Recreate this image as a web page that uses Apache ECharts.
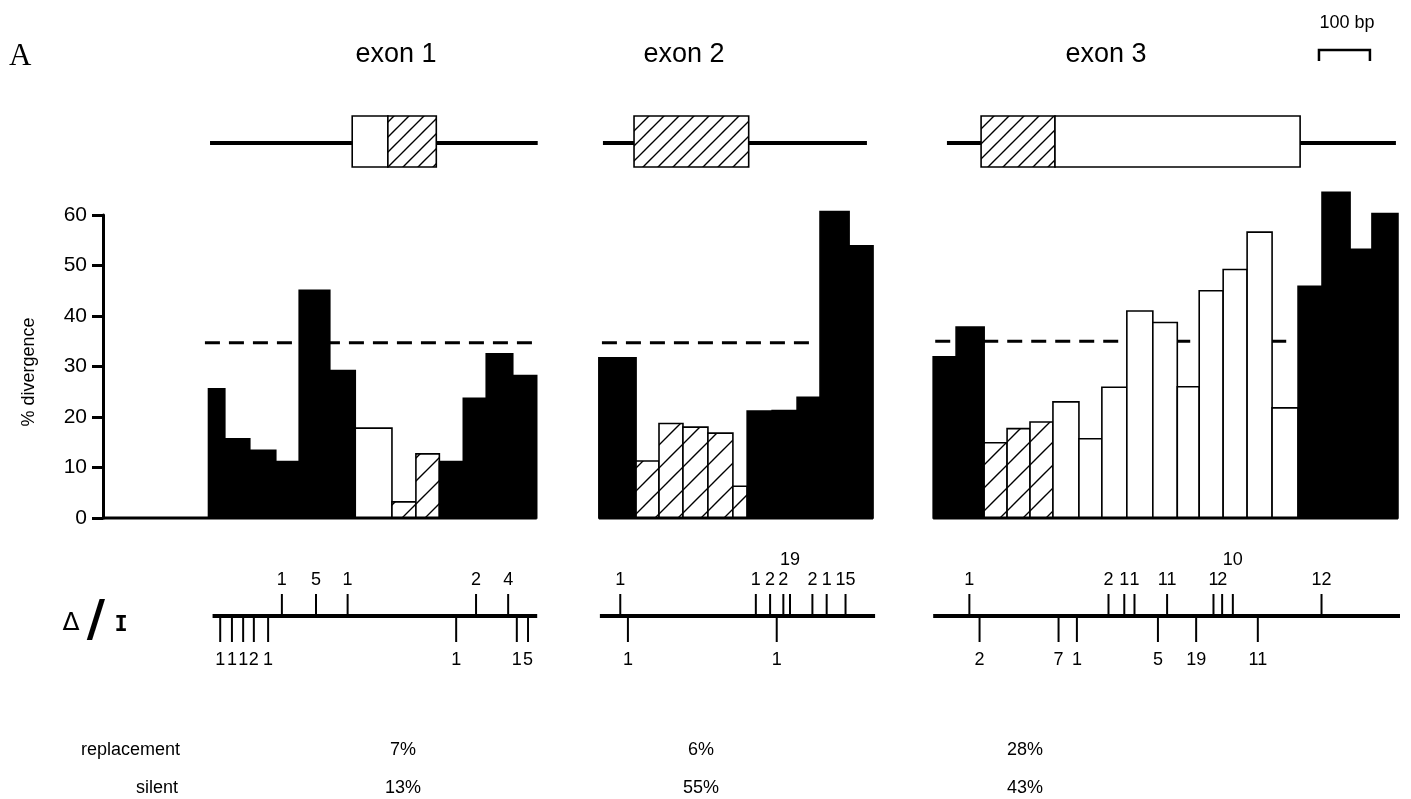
<!DOCTYPE html>
<html>
<head>
<meta charset="utf-8">
<script src="https://cdn.jsdelivr.net/npm/echarts@6/dist/echarts.min.js"></script>
<style>
html, body { margin: 0; padding: 0; background: #fff; }
#main { width: 1411px; height: 799px; }
</style>
</head>
<body>
<div id="main"></div>
<script>
// positions are in bp along the aligned region, divergence in %
// window edges + values per exon panel; kind: 'n' flanking/intron (black), 'u' untranslated (white), 'c' coding (hatched)
var exon1Edges = [207, 239, 288, 339, 385, 445, 495, 567, 614, 660, 707, 752, 804, 851];
var exon1Values = [25.6, 15.7, 13.4, 11.2, 45.1, 29.2, 17.8, 3.2, 12.7, 11.2, 23.7, 32.5, 28.2];
var exon1Kinds = ['n', 'n', 'n', 'n', 'n', 'n', 'u', 'c', 'c', 'n', 'n', 'n', 'n'];

var exon2Edges = [973, 1046, 1091, 1138, 1187, 1236, 1264, 1313, 1362, 1407, 1464, 1511];
var exon2Values = [31.7, 11.3, 18.7, 18.0, 16.8, 6.3, 21.2, 21.3, 23.9, 60.7, 53.9];
var exon2Kinds = ['n', 'c', 'c', 'c', 'c', 'c', 'n', 'n', 'n', 'n', 'n'];

var exon3Edges = [1629, 1674, 1729, 1774, 1819, 1864, 1915, 1960, 2009, 2060, 2108, 2151, 2198, 2245, 2294, 2345, 2392, 2447, 2490, 2541];
var exon3Values = [31.9, 37.8, 14.9, 17.7, 19.0, 23.0, 15.7, 25.9, 41.0, 38.7, 26.0, 45.0, 49.2, 56.6, 21.8, 45.9, 64.5, 53.2, 60.3];
var exon3Kinds = ['n', 'n', 'c', 'c', 'c', 'u', 'u', 'u', 'u', 'u', 'u', 'u', 'u', 'u', 'u', 'n', 'n', 'n', 'n'];

// baseline stretch of each panel and the dashed average level
var panelSpans = [[0, 851], [973, 1511], [1629, 2541]];
var avgSpans = [[200, 851], [979, 1401], [1633, 2331]];
var avgLevels = [34.7, 34.7, 35.0];

// gene structure: flanking lines and exon boxes
var flankLines = [[210, 853], [981, 1499], [1656, 2537]];
var exonParts = [[489, 559, 'u'], [559, 654, 'c'], [1042, 1267, 'c'], [1723, 1868, 'c'], [1868, 2349, 'u']];
var scaleBarStart = 2386;
var scaleBarLength = 100;

// deletions / insertions: sites above and below the line with sizes
var indelLines = [[215, 852], [975, 1515], [1629, 2545]];
var abovePos = [351, 418, 480, 732, 795, 1015, 1281, 1309, 1335, 1348, 1392, 1420, 1457, 1700, 1973, 2004, 2024, 2088, 2179, 2196, 2217, 2391];
var aboveSize = [1, 5, 1, 2, 4, 1, 1, 2, 2, 19, 2, 1, 15, 1, 2, 1, 1, 11, 1, 2, 10, 12];
var belowPos = [230, 253, 275, 296, 324, 693, 812, 834, 1030, 1322, 1720, 1875, 1911, 2070, 2145, 2266];
var belowSize = [1, 1, 1, 2, 1, 1, 1, 5, 1, 1, 2, 7, 1, 5, 19, 11];

var exonNames = ['exon 1', 'exon 2', 'exon 3'];
var replacement = ['7%', '6%', '28%'];
var silent = ['13%', '55%', '43%'];

// layout
var titleX = [396, 684, 1106];
var pctX = [403, 701, 1025];
var FONT = 'Liberation Sans';

function hatch(size, lw) {
    var c = document.createElement('canvas');
    c.width = size;
    c.height = size;
    var g = c.getContext('2d');
    g.fillStyle = '#fff';
    g.fillRect(0, 0, size, size);
    g.strokeStyle = '#000';
    g.lineWidth = lw;
    g.beginPath();
    g.moveTo(-2, size + 2); g.lineTo(size + 2, -2);
    g.moveTo(-2, 2); g.lineTo(2, -2);
    g.moveTo(size - 2, size + 2); g.lineTo(size + 2, size - 2);
    g.stroke();
    return { image: c, repeat: 'repeat' };
}
var barFill = { n: '#000', u: '#fff', c: hatch(23, 1.4) };
var boxFill = { u: '#fff', c: hatch(15, 1.4) };

var bars = [];
[[exon1Edges, exon1Values, exon1Kinds], [exon2Edges, exon2Values, exon2Kinds], [exon3Edges, exon3Values, exon3Kinds]].forEach(function (p) {
    p[1].forEach(function (v, i) {
        bars.push([p[0][i], p[0][i + 1], v, p[2][i]]);
    });
});

var indels = [];
abovePos.forEach(function (x, i) { indels.push([x, aboveSize[i], 1]); });
belowPos.forEach(function (x, i) { indels.push([x, belowSize[i], -1]); });

var chart = echarts.init(document.getElementById('main'));

function xAxis(i) {
    return { gridIndex: i, type: 'value', min: 0, max: 2545, show: false };
}

function label(text, x, y, align) {
    return {
        type: 'text', x: x, y: y,
        style: { text: text, font: '18px "' + FONT + '"', fill: '#000', textAlign: align || 'center', textVerticalAlign: 'middle' }
    };
}

chart.setOption({
    animation: false,
    backgroundColor: '#fff',
    grid: [
        { left: 103, right: 11, top: 116, height: 51 },
        { left: 103, right: 11, top: 215, height: 303 },
        { left: 103, right: 11, top: 596, height: 40 }
    ],
    xAxis: [xAxis(0), xAxis(1), xAxis(2)],
    yAxis: [
        { gridIndex: 0, type: 'value', min: 0, max: 1, show: false },
        {
            gridIndex: 1,
            type: 'value',
            min: 0,
            max: 60,
            interval: 10,
            axisLine: { show: true, lineStyle: { color: '#000', width: 3 } },
            axisTick: { show: true, length: 11, lineStyle: { color: '#000', width: 3 } },
            axisLabel: { color: '#000', fontSize: 21, fontFamily: FONT, margin: 16 },
            splitLine: { show: false }
        },
        { gridIndex: 2, type: 'value', min: -1, max: 1, show: false }
    ],
    series: [
        {
            // dashed average line, under the bars
            type: 'custom',
            xAxisIndex: 1,
            yAxisIndex: 1,
            z: 1,
            data: avgSpans.map(function (s, i) { return [s[0], s[1], avgLevels[i]]; }),
            encode: { x: [0, 1], y: 2 },
            renderItem: function (params, api) {
                var a = api.coord([api.value(0), api.value(2)]);
                var b = api.coord([api.value(1), api.value(2)]);
                return {
                    type: 'line',
                    shape: { x1: a[0], y1: a[1], x2: b[0], y2: b[1] },
                    style: { stroke: '#000', lineWidth: 3, lineDash: [15, 9] }
                };
            }
        },
        {
            type: 'custom',
            xAxisIndex: 1,
            yAxisIndex: 1,
            z: 2,
            data: bars.map(function (d) { return [d[0], d[1], d[2]]; }),
            encode: { x: [0, 1], y: 2 },
            renderItem: function (params, api) {
                var kind = bars[params.dataIndex][3];
                var p0 = api.coord([api.value(0), 0]);
                var p1 = api.coord([api.value(1), api.value(2)]);
                return {
                    type: 'rect',
                    shape: { x: p0[0], y: p1[1], width: p1[0] - p0[0], height: p0[1] - p1[1] },
                    style: { fill: barFill[kind], stroke: '#000', lineWidth: 1.6 }
                };
            }
        },
        {
            // zero baseline of each panel
            type: 'custom',
            xAxisIndex: 1,
            yAxisIndex: 1,
            z: 3,
            data: panelSpans,
            encode: { x: [0, 1] },
            renderItem: function (params, api) {
                var a = api.coord([api.value(0), 0]);
                var b = api.coord([api.value(1), 0]);
                return {
                    type: 'line',
                    shape: { x1: a[0], y1: a[1], x2: b[0], y2: b[1] },
                    style: { stroke: '#000', lineWidth: 3 }
                };
            }
        },
        {
            // gene structure lines
            type: 'custom',
            xAxisIndex: 0,
            yAxisIndex: 0,
            z: 1,
            data: flankLines,
            encode: { x: [0, 1] },
            renderItem: function (params, api) {
                var a = api.coord([api.value(0), 0.47]);
                var b = api.coord([api.value(1), 0.47]);
                return {
                    type: 'line',
                    shape: { x1: a[0], y1: a[1], x2: b[0], y2: b[1] },
                    style: { stroke: '#000', lineWidth: 4 }
                };
            }
        },
        {
            // exon boxes
            type: 'custom',
            xAxisIndex: 0,
            yAxisIndex: 0,
            z: 2,
            data: exonParts.map(function (e) { return [e[0], e[1]]; }),
            encode: { x: [0, 1] },
            renderItem: function (params, api) {
                var kind = exonParts[params.dataIndex][2];
                var a = api.coord([api.value(0), 1]);
                var b = api.coord([api.value(1), 0]);
                return {
                    type: 'rect',
                    shape: { x: a[0], y: a[1], width: b[0] - a[0], height: b[1] - a[1] },
                    style: { fill: boxFill[kind], stroke: '#000', lineWidth: 1.6 }
                };
            }
        },
        {
            // 100 bp scale bar
            type: 'custom',
            xAxisIndex: 0,
            yAxisIndex: 0,
            data: [[scaleBarStart, scaleBarStart + scaleBarLength]],
            encode: { x: [0, 1] },
            renderItem: function (params, api) {
                var a = api.coord([api.value(0), 1]);
                var b = api.coord([api.value(1), 1]);
                var top = a[1] - 66;
                return {
                    type: 'polyline',
                    shape: { points: [[a[0], top + 11], [a[0], top], [b[0], top], [b[0], top + 11]] },
                    style: { stroke: '#000', lineWidth: 2.5, fill: null }
                };
            }
        },
        {
            // indel lines
            type: 'custom',
            xAxisIndex: 2,
            yAxisIndex: 2,
            z: 2,
            data: indelLines,
            encode: { x: [0, 1] },
            renderItem: function (params, api) {
                var a = api.coord([api.value(0), 0]);
                var b = api.coord([api.value(1), 0]);
                return {
                    type: 'line',
                    shape: { x1: a[0], y1: a[1], x2: b[0], y2: b[1] },
                    style: { stroke: '#000', lineWidth: 4 }
                };
            }
        },
        {
            // indel ticks with sizes
            type: 'custom',
            xAxisIndex: 2,
            yAxisIndex: 2,
            z: 1,
            data: indels,
            encode: { x: 0 },
            renderItem: function (params, api) {
                var d = indels[params.dataIndex];
                var p = api.coord([d[0], 0]);
                var up = d[2] > 0;
                var text = String(d[1]);
                var raise = 0;
                if (text.length > 1) {
                    indels.forEach(function (o, j) {
                        if (j !== params.dataIndex && o[2] === d[2]) {
                            var q = api.coord([o[0], 0]);
                            if (Math.abs(q[0] - p[0]) < 12) raise = 20;
                        }
                    });
                }
                var tickEnd = up ? p[1] - 22 : p[1] + 26;
                return {
                    type: 'group',
                    children: [
                        {
                            type: 'line',
                            shape: { x1: p[0], y1: p[1], x2: p[0], y2: tickEnd },
                            style: { stroke: '#000', lineWidth: 2 }
                        },
                        {
                            type: 'text',
                            x: p[0],
                            y: up ? p[1] - 27 - raise : p[1] + 35,
                            style: {
                                text: text,
                                fill: '#000',
                                font: '18px "' + FONT + '"',
                                textAlign: 'center',
                                textVerticalAlign: up ? 'bottom' : 'top'
                            }
                        }
                    ]
                };
            }
        }
    ],
    graphic: [
        { type: 'text', x: 9, y: 57, style: { text: 'A', font: '31px "Liberation Serif"', fill: '#000', textVerticalAlign: 'middle' } },
        { type: 'text', x: titleX[0], y: 55, style: { text: exonNames[0], font: '27px "' + FONT + '"', fill: '#000', textAlign: 'center', textVerticalAlign: 'middle' } },
        { type: 'text', x: titleX[1], y: 55, style: { text: exonNames[1], font: '27px "' + FONT + '"', fill: '#000', textAlign: 'center', textVerticalAlign: 'middle' } },
        { type: 'text', x: titleX[2], y: 55, style: { text: exonNames[2], font: '27px "' + FONT + '"', fill: '#000', textAlign: 'center', textVerticalAlign: 'middle' } },
        label('100 bp', 1347, 23),
        { type: 'text', x: 29, y: 372, rotation: Math.PI / 2, style: { text: '% divergence', font: '18px "' + FONT + '"', fill: '#000', textAlign: 'center', textVerticalAlign: 'middle' } },
        { type: 'text', x: 71, y: 623, style: { text: 'Δ', font: '25px "DejaVu Sans"', fill: '#000', textAlign: 'center', textVerticalAlign: 'middle' } },
        { type: 'text', x: 96, y: 622, style: { text: '/', font: 'bold 50px "DejaVu Sans"', fill: '#000', textAlign: 'center', textVerticalAlign: 'middle' } },
        { type: 'text', x: 121, y: 625, style: { text: 'I', font: 'bold 22px "DejaVu Sans Mono"', fill: '#000', textAlign: 'center', textVerticalAlign: 'middle' } },
        label('replacement', 180, 750, 'right'),
        label('silent', 178, 788, 'right')
    ].concat(replacement.map(function (t, i) {
        return label(t, pctX[i], 750);
    })).concat(silent.map(function (t, i) {
        return label(t, pctX[i], 788);
    }))
});
</script>
</body>
</html>
